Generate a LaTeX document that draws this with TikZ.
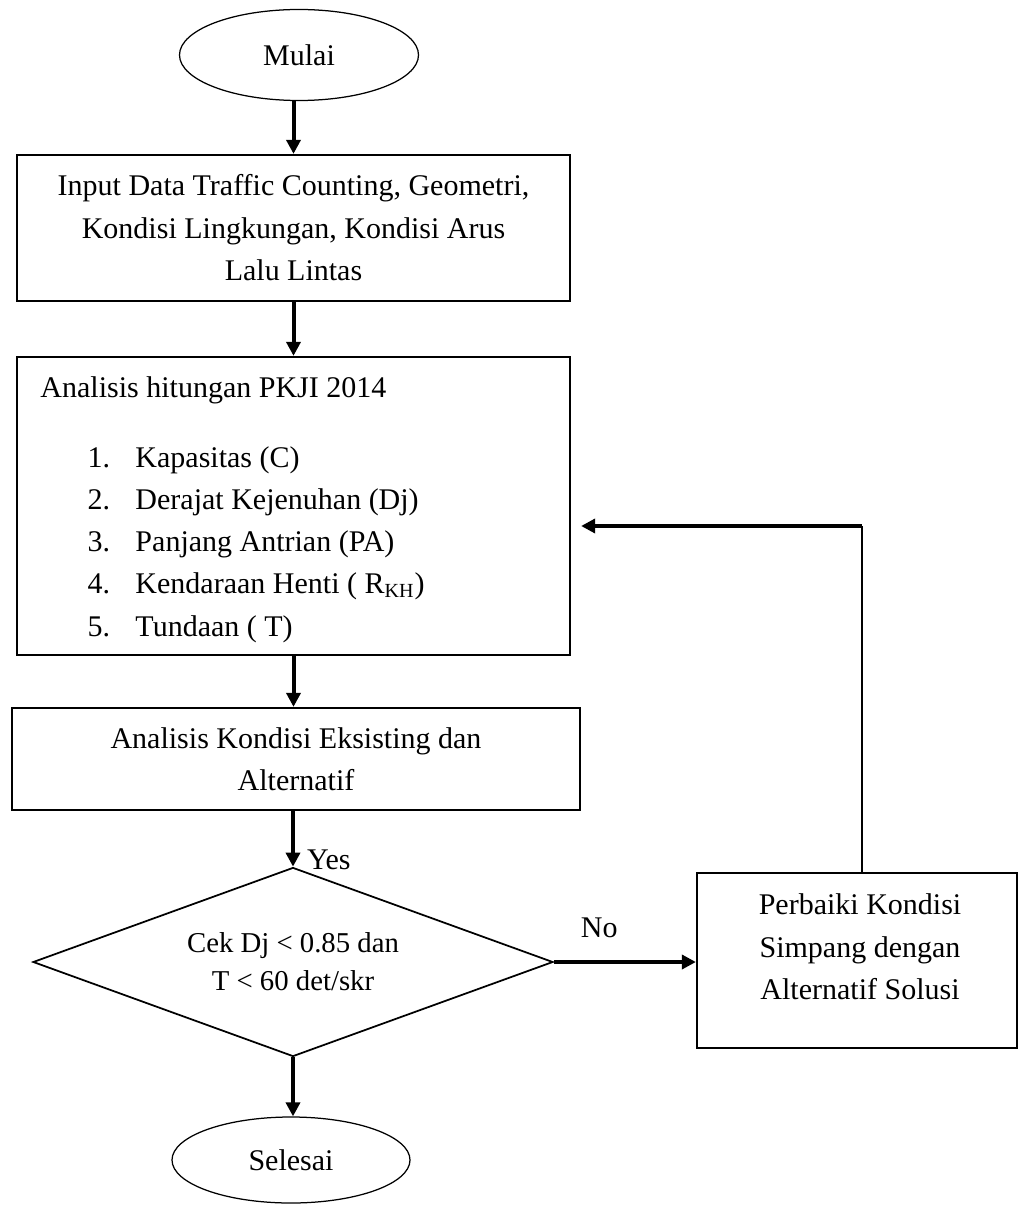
\documentclass[tikz,border=0pt]{standalone}
\usepackage{fontspec}
\setmainfont{Liberation Serif}
\usetikzlibrary{arrows.meta, shapes.geometric, positioning, calc}
\tikzset{
  teks/.style={font=\fontsize{12pt}{17pt}\selectfont, inner sep=0pt},
  terminal/.style={draw, ellipse, line width=0.5pt, inner sep=0pt, teks},
  prosesbox/.style={draw, rectangle, line width=0.9pt, inner sep=0pt, teks},
  decision/.style={draw, diamond, shape aspect=2.75, line width=0.7pt, inner sep=0pt, font=\fontsize{11.5pt}{15.2pt}\selectfont},
  flow/.style={-{Triangle[length=5.6pt, width=5.6pt]}, line width=1.6pt}
}

\begin{document}
\begin{tikzpicture}[x=0.4pt, y=-0.4pt]
            \useasboundingbox (0,0) rectangle (1019,1205);
            % bentuk utama
            \node[terminal, minimum width=95.6pt, minimum height=36.4pt] (mulai) at (299,55) {Mulai};
            \node[prosesbox, align=center, minimum width=221.2pt, minimum height=58.4pt] (input) at (293.5,228) {Input Data Traffic Counting, Geometri,\\Kondisi Lingkungan, Kondisi Arus\\Lalu Lintas};
            \node[prosesbox, minimum width=221.2pt, minimum height=119.2pt] (analisis) at (293.5,506) {};
            \node[teks, anchor=base west] (judul) at (40,397) {Analisis hitungan PKJI 2014};
            \node[teks, anchor=base west] (item1) at (87,467) {\makebox[19.2pt][l]{1.}Kapasitas (C)};
            \node[teks, anchor=base west] (item2) at (87,509) {\makebox[19.2pt][l]{2.}Derajat Kejenuhan (Dj)};
            \node[teks, anchor=base west] (item3) at (87,551) {\makebox[19.2pt][l]{3.}Panjang Antrian (PA)};
            \node[teks, anchor=base west] (item4) at (87,593) {\makebox[19.2pt][l]{4.}Kendaraan Henti ( R\textsubscript{KH})};
            \node[teks, anchor=base west] (item5) at (87,636) {\makebox[19.2pt][l]{5.}Tundaan ( T)};
            \node[prosesbox, align=center, minimum width=227.2pt, minimum height=40.8pt] (eksisting) at (296,759) {Analisis Kondisi Eksisting dan\\Alternatif};
            \node[decision, align=center, minimum width=208pt, minimum height=75.6pt] (cek) at (293,962) {Cek Dj < 0.85 dan\\T < 60 det/skr};
            \node[prosesbox, minimum width=128pt, minimum height=70pt] (perbaiki) at (857,960.5) {};
            \node[teks, align=center] (perbaikiteks) at (860,947) {Perbaiki Kondisi\\Simpang dengan\\Alternatif Solusi};
            \node[terminal, minimum width=95.2pt, minimum height=34.4pt] (selesai) at (291,1160) {Selesai};
            % panah
            \draw[flow] (input.north |- mulai.south) -- (input.north);
            \draw[flow] (input.south) -- (analisis.north);
            \draw[flow] (analisis.south) -- (analisis.south |- eksisting.north);
            \draw[flow] (cek.north |- eksisting.south) -- (cek.north) node[teks, anchor=base west, xshift=4.8pt, yshift=-1.2pt] {Yes};
            \draw[flow] (cek.south) -- (cek.south |- selesai.north);
            \draw[flow] (cek.east) -- (cek.east -| perbaiki.west) node[teks, pos=0.32, anchor=base, yshift=10pt] {No};
            \coordinate (balik) at (862,526);
            \draw[line width=1pt] (perbaiki.north -| balik) -- (balik);
            \draw[flow] (balik) -- ([xshift=4pt]balik -| analisis.east);
        \end{tikzpicture}
\end{document}
